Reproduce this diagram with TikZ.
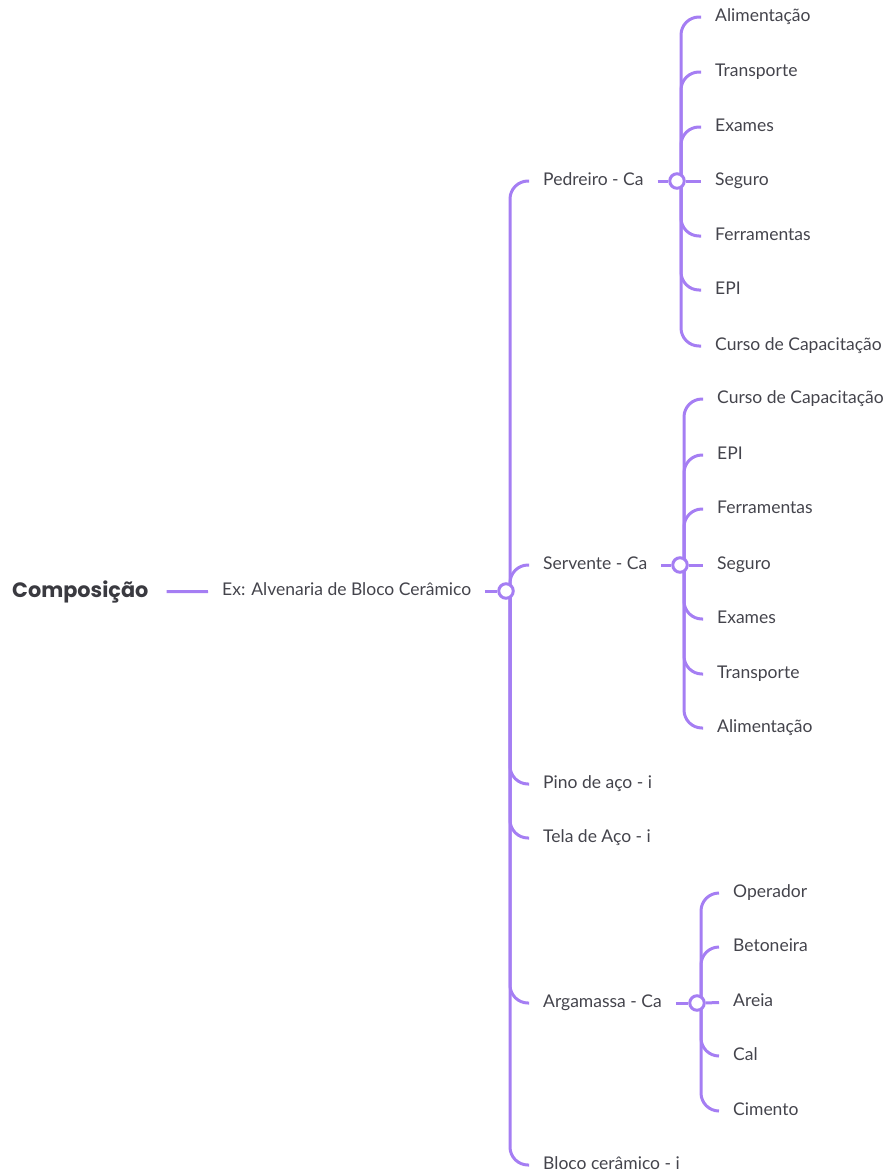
\documentclass[tikz,border=0pt]{standalone}
\usepackage{fontspec}
\setmainfont{Lato}
\newfontfamily\rootfont{Poppins}
\usetikzlibrary{positioning,backgrounds}
\definecolor{lilac}{HTML}{A57EF3}
\definecolor{ink}{HTML}{44444C}
\definecolor{inkdark}{HTML}{3A3A40}

\begin{document}
\begin{tikzpicture}[x=1pt,y=-1pt,
  topic/.style={anchor=west,inner sep=0pt,text=inkdark,font=\rootfont\bfseries\fontsize{20.8}{24}\selectfont},
  leaf/.style={anchor=west,inner xsep=14pt,inner ysep=0pt,text height=12.5pt,text depth=4.5pt,
    text=ink,font=\fontsize{17.5}{20}\selectfont},
  hub/.style={circle,draw=lilac,fill=white,line width=3pt,minimum size=14.5pt,inner sep=0pt},
  br/.style={lilac,line width=3pt,rounded corners=18pt}]
\useasboundingbox (0,0) rectangle (891,1175);
\node[topic] (comp) at (12,592) {Composição};
\node[leaf] (ex) at (208,591) {Ex: Alvenaria de Bloco Cerâmico};
\node[hub] (M) at (506,591) {};
% first level
\node[leaf] (pedreiro) at (529,181) {Pedreiro - Ca};
\node[leaf] (servente) at (529,565) {Servente - Ca};
\node[leaf] (pino) at (529,784) {Pino de aço - i};
\node[leaf] (tela) at (529,838) {Tela de Aço - i};
\node[leaf] (argamassa) at (529,1003) {Argamassa - Ca};
\node[leaf] (bloco) at (529,1165) {Bloco cerâmico - i};
\node[hub] (P) at (677,181) {};
\node[hub] (S) at (680,565) {};
\node[hub] (A) at (697,1003) {};
% pedreiro
\node[leaf] (p1) at (701,17) {Alimentação};
\node[leaf] (p2) at (701,72) {Transporte};
\node[leaf] (p3) at (701,127) {Exames};
\node[leaf] (p4) at (701,181) {Seguro};
\node[leaf] (p5) at (701,236) {Ferramentas};
\node[leaf] (p6) at (701,290) {EPI};
\node[leaf] (p7) at (701,346) {Curso de Capacitação};
% servente
\node[leaf] (s1) at (703,399) {Curso de Capacitação};
\node[leaf] (s2) at (703,455) {EPI};
\node[leaf] (s3) at (703,509) {Ferramentas};
\node[leaf] (s4) at (703,565) {Seguro};
\node[leaf] (s5) at (703,619) {Exames};
\node[leaf] (s6) at (703,674) {Transporte};
\node[leaf] (s7) at (703,728) {Alimentação};
% argamassa
\node[leaf] (a1) at (719,893) {Operador};
\node[leaf] (a2) at (719,947) {Betoneira};
\node[leaf] (a3) at (719,1002) {Areia};
\node[leaf] (a4) at (719,1056) {Cal};
\node[leaf] (a5) at (719,1111) {Cimento};

\begin{scope}[on background layer]
\draw[br,shorten <=18pt] (comp) -- (ex);
\draw[br] (ex) -- (M);
\draw[br] ([xshift=4pt]M.center) |- (pedreiro.west);
\draw[br] ([xshift=4pt]M.center) |- (servente.west);
\draw[br] ([xshift=4pt]M.center) |- (pino.west);
\draw[br] ([xshift=4pt]M.center) |- (tela.west);
\draw[br] ([xshift=4pt]M.center) |- (argamassa.west);
\draw[br] ([xshift=4pt]M.center) |- (bloco.west);
\draw[br] (pedreiro) -- (P);
\draw[br] (servente) -- (S);
\draw[br] (argamassa) -- (A);
\draw[br] ([xshift=4pt]P.center) |- (p1.west);
\draw[br] ([xshift=4pt]P.center) |- (p2.west);
\draw[br] ([xshift=4pt]P.center) |- (p3.west);
\draw[br] (P) -- (p4);
\draw[br] ([xshift=4pt]P.center) |- (p5.west);
\draw[br] ([xshift=4pt]P.center) |- (p6.west);
\draw[br] ([xshift=4pt]P.center) |- (p7.west);
\draw[br] ([xshift=4pt]S.center) |- (s1.west);
\draw[br] ([xshift=4pt]S.center) |- (s2.west);
\draw[br] ([xshift=4pt]S.center) |- (s3.west);
\draw[br] (S) -- (s4);
\draw[br] ([xshift=4pt]S.center) |- (s5.west);
\draw[br] ([xshift=4pt]S.center) |- (s6.west);
\draw[br] ([xshift=4pt]S.center) |- (s7.west);
\draw[br] ([xshift=4pt]A.center) |- (a1.west);
\draw[br] ([xshift=4pt]A.center) |- (a2.west);
\draw[br] (A) -- (a3);
\draw[br] ([xshift=4pt]A.center) |- (a4.west);
\draw[br] ([xshift=4pt]A.center) |- (a5.west);
\end{scope}
\end{tikzpicture}
\end{document}
